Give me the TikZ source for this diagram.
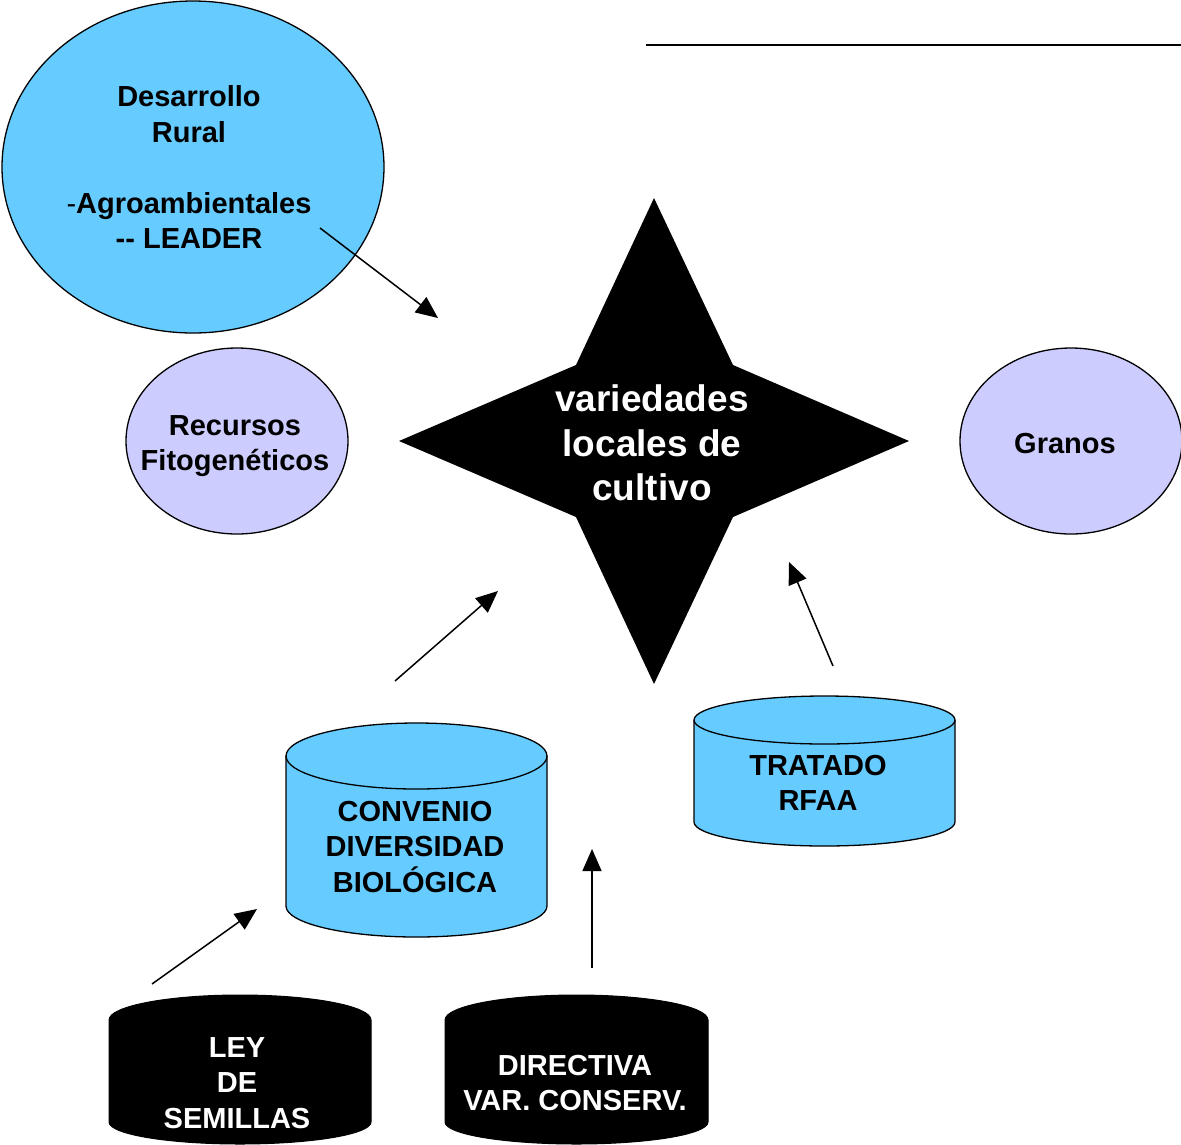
\documentclass[tikz,border=0pt]{standalone}
\usepackage{fontspec}
\setmainfont{Liberation Sans}
\usetikzlibrary{arrows.meta}
\definecolor{skyb}{HTML}{66CCFF}
\definecolor{lilac}{HTML}{CCCCFF}
\tikzset{
  lbl/.style={inner sep=0pt, align=center, font=\fontsize{29}{35.5}\selectfont\bfseries},
  bigl/.style={inner sep=0pt, align=center, font=\fontsize{37}{44.5}\selectfont\bfseries, text=white},
  shp/.style={draw=black, line width=1.3pt},
  arr/.style={line width=1.5pt, -{Triangle[length=22pt,width=19pt]}},
}
\begin{document}
\begin{tikzpicture}[x=1pt,y=-1pt]
\clip (0,0) rectangle (1181,1144);
\fill[white] (0,0) rectangle (1181,1144);

% top-right rule
\coordinate (r1) at (646,45);
\coordinate (r2) at (1181,45);
\draw[line width=2pt] (r1) -- (r2);

% Desarrollo Rural ellipse
\draw[shp, fill=skyb] (193,167) ellipse[x radius=191, y radius=166];
\node[lbl] (dr) at (189,167) {Desarrollo\\Rural\\ \\{\mdseries -}Agroambientales\\{-}{-} LEADER};

% Recursos
\draw[shp, fill=lilac] (237,441) ellipse[x radius=111, y radius=93];
\node[lbl] (rf) at (235,446) {Recursos\\Fitogenéticos};

% Granos
\draw[shp, fill=lilac] (1071,441) ellipse[x radius=111, y radius=93];
\node[lbl] (gr) at (1065,444) {Granos};

% Star
\fill[black] (654,198) -- (733,365) -- (909,441) -- (733,517) -- (654,684)
  -- (576,517) -- (399,441) -- (576,365) -- cycle;
\node[bigl] (star) at (652,443) {variedades\\locales de\\cultivo};

% CONVENIO cylinder
\draw[shp, fill=skyb] (286,756) -- (286,906) arc[start angle=180, end angle=0, x radius=130.5, y radius=31]
  -- (547,756) arc[start angle=360, end angle=180, x radius=130.5, y radius=33] -- cycle;
\draw[shp] (286,756) arc[start angle=180, end angle=0, x radius=130.5, y radius=33];
\node[lbl] (cdb) at (415,847) {CONVENIO\\DIVERSIDAD\\BIOLÓGICA};

% TRATADO cylinder
\draw[shp, fill=skyb] (694,720) -- (694,822) arc[start angle=180, end angle=0, x radius=130.5, y radius=24]
  -- (955,720) arc[start angle=360, end angle=180, x radius=130.5, y radius=24] -- cycle;
\draw[shp] (694,720) arc[start angle=180, end angle=0, x radius=130.5, y radius=24];
\node[lbl] (tr) at (818,783) {TRATADO\\RFAA};

% LEY DE SEMILLAS cylinder (black)
\draw[draw=black, fill=black, line width=1pt] (109,1020) -- (109,1122) arc[start angle=180, end angle=0, x radius=131, y radius=22]
  -- (371,1020) arc[start angle=360, end angle=180, x radius=131, y radius=25] -- cycle;
\node[lbl, text=white] (ley) at (237,1083) {LEY\\DE\\SEMILLAS};

% DIRECTIVA cylinder (black)
\draw[draw=black, fill=black, line width=1pt] (445,1020) -- (445,1122) arc[start angle=180, end angle=0, x radius=131.5, y radius=22]
  -- (708,1020) arc[start angle=360, end angle=180, x radius=131.5, y radius=25] -- cycle;
\node[lbl, text=white] (dir) at (575,1083) {DIRECTIVA\\VAR. CONSERV.};

% arrows
\coordinate (a1s) at (320,228); \coordinate (a1e) at (438,318);
\coordinate (a2s) at (395,681); \coordinate (a2e) at (498,591);
\coordinate (a3s) at (833,666); \coordinate (a3e) at (789,562);
\coordinate (a4s) at (152,984); \coordinate (a4e) at (257,909);
\coordinate (a5s) at (592,968); \coordinate (a5e) at (592,849);
\draw[arr] (a1s) -- (a1e);
\draw[arr] (a2s) -- (a2e);
\draw[arr] (a3s) -- (a3e);
\draw[arr] (a4s) -- (a4e);
\draw[arr] (a5s) -- (a5e);
\end{tikzpicture}
\end{document}
